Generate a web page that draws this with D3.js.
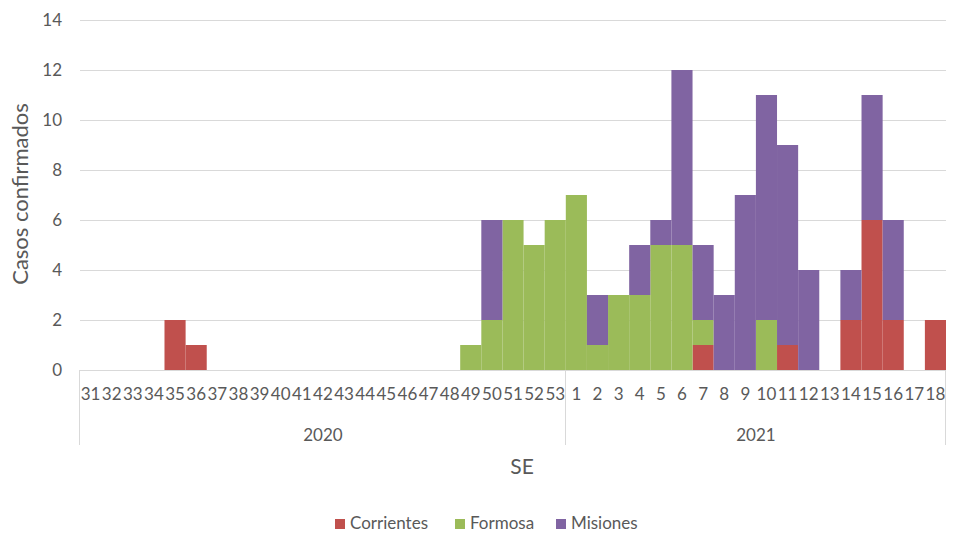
<!DOCTYPE html>
<html>
<head>
<meta charset="utf-8">
<script src="https://cdn.jsdelivr.net/npm/d3@7"></script>
<style>
  html, body { margin: 0; padding: 0; background: #fff; }
  svg { display: block; font-family: Lato, "Open Sans", sans-serif; }
</style>
</head>
<body>
<svg id="chart" width="957" height="534"></svg>
<script>
// Epidemiological weeks (SE) and the year each belongs to
const weeks = ["31","32","33","34","35","36","37","38","39","40","41","42","43","44","45","46","47","48","49","50","51","52","53",
               "1","2","3","4","5","6","7","8","9","10","11","12","13","14","15","16","17","18"];
const years = ["2020","2020","2020","2020","2020","2020","2020","2020","2020","2020","2020","2020","2020","2020","2020","2020","2020","2020","2020","2020","2020","2020","2020",
               "2021","2021","2021","2021","2021","2021","2021","2021","2021","2021","2021","2021","2021","2021","2021","2021","2021","2021"];

// Confirmed cases per week, by province
const corrientes = [0,0,0,0,2,1,0,0,0,0,0,0,0,0,0,0,0,0,0,0,0,0,0,
                    0,0,0,0,0,0,1,0,0,0,1,0,0,2,6,2,0,2];
const formosa    = [0,0,0,0,0,0,0,0,0,0,0,0,0,0,0,0,0,0,1,2,6,5,6,
                    7,1,3,3,5,5,1,0,0,2,0,0,0,0,0,0,0,0];
const misiones   = [0,0,0,0,0,0,0,0,0,0,0,0,0,0,0,0,0,0,0,4,0,0,0,
                    0,2,0,2,1,7,3,3,7,9,8,4,0,2,5,4,0,0];

const seriesNames = ["Corrientes", "Formosa", "Misiones"];
const seriesColors = ["#C0504D", "#9BBB59", "#8064A2"];
const yTicks = [0, 2, 4, 6, 8, 10, 12, 14];

const keys = weeks.map((w, i) => years[i] + "-" + w);
const rows = keys.map((k, i) => ({
  key: k, week: weeks[i], year: years[i],
  Corrientes: corrientes[i], Formosa: formosa[i], Misiones: misiones[i]
}));

const svg = d3.select("#chart");
const plotLeft = 80, plotRight = 946, plotTop = 20, plotBottom = 370;
const textColor = "#595959", gridColor = "#D9D9D9";

const x = d3.scaleBand().domain(keys).range([plotLeft, plotRight]).paddingInner(0).paddingOuter(0);
const y = d3.scaleLinear().domain([0, 14]).range([plotBottom, plotTop]);

// Horizontal gridlines
svg.append("g").selectAll("line").data(yTicks).join("line")
  .attr("x1", plotLeft).attr("x2", plotRight)
  .attr("y1", d => Math.round(y(d)) + 0.5).attr("y2", d => Math.round(y(d)) + 0.5)
  .attr("stroke", gridColor).attr("stroke-width", 1);

// Y axis labels
const yAxis = d3.axisLeft(y).tickValues(yTicks).tickSize(0).tickPadding(0);
const gy = svg.append("g").attr("transform", `translate(${62},0)`).call(yAxis);
gy.select(".domain").remove();
gy.selectAll("text").attr("font-size", 17).attr("fill", textColor)
  .attr("font-family", "Lato, sans-serif");

// Stacked bars
const stack = d3.stack().keys(seriesNames);
const layers = stack(rows);
svg.append("g").selectAll("g").data(layers).join("g")
  .attr("fill", (d, i) => seriesColors[i])
  .selectAll("rect").data(d => d.filter(s => s[1] > s[0])).join("rect")
  .attr("x", d => x(d.data.key))
  .attr("width", x.bandwidth())
  .attr("y", d => y(d[1]))
  .attr("height", d => y(d[0]) - y(d[1]));

// Baseline
svg.append("line")
  .attr("x1", plotLeft).attr("x2", plotRight)
  .attr("y1", plotBottom + 0.5).attr("y2", plotBottom + 0.5)
  .attr("stroke", gridColor);

// Week labels
const xAxis = d3.axisBottom(x).tickFormat(k => k.split("-")[1]).tickSize(0).tickPadding(0);
const gx = svg.append("g").attr("transform", `translate(0,${plotBottom + 27})`).call(xAxis);
gx.select(".domain").remove();
gx.selectAll("text").attr("font-size", 17).attr("fill", textColor)
  .attr("font-family", "Lato, sans-serif").attr("dy", "0.2em");

// Year groups with separators
const yearList = Array.from(new Set(years));
const groups = yearList.map(yr => {
  const ks = keys.filter((k, i) => years[i] === yr);
  return { year: yr, x0: x(ks[0]), x1: x(ks[ks.length - 1]) + x.bandwidth() };
});
const seps = [groups[0].x0, ...groups.map(g => g.x1)];
svg.append("g").selectAll("line").data(seps).join("line")
  .attr("x1", d => Math.round(d) - 0.5).attr("x2", d => Math.round(d) - 0.5)
  .attr("y1", plotBottom).attr("y2", 445)
  .attr("stroke", gridColor);
svg.append("g").selectAll("text").data(groups).join("text")
  .attr("x", d => (d.x0 + d.x1) / 2)
  .attr("y", 441)
  .attr("text-anchor", "middle")
  .attr("font-size", 17).attr("fill", textColor)
  .text(d => d.year);

// Axis titles
svg.append("text")
  .attr("transform", `translate(28,${194}) rotate(-90)`)
  .attr("text-anchor", "middle")
  .attr("font-size", 22).attr("fill", textColor)
  .text("Casos confirmados");
svg.append("text")
  .attr("x", 522).attr("y", 474)
  .attr("text-anchor", "middle")
  .attr("font-size", 21).attr("fill", textColor)
  .text("SE");

// Legend
const legendX = [335, 455, 556];
const lg = svg.append("g").selectAll("g").data(seriesNames).join("g")
  .attr("transform", (d, i) => `translate(${legendX[i]},519)`);
lg.append("rect").attr("width", 10).attr("height", 10)
  .attr("fill", (d, i) => seriesColors[i]);
lg.append("text").attr("x", 15).attr("y", 10)
  .attr("font-size", 17).attr("fill", textColor)
  .text(d => d);
</script>
</body>
</html>
